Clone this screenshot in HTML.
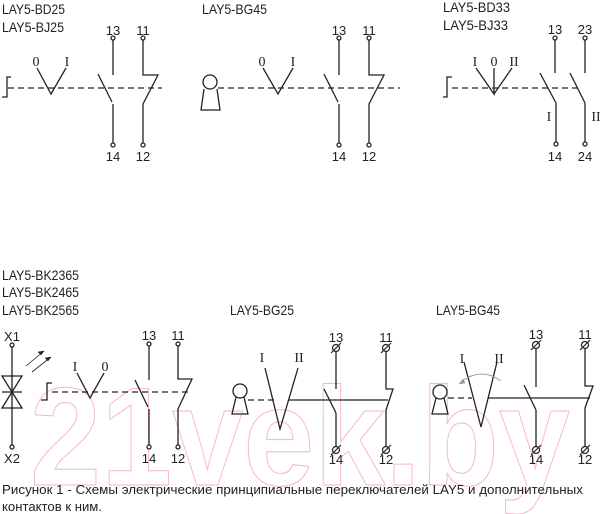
<!DOCTYPE html>
<html><head><meta charset="utf-8"><style>
html,body{margin:0;padding:0;background:#fff;width:600px;height:514px;overflow:hidden}
svg{display:block}
.t{font-family:"Liberation Sans",sans-serif;font-size:14px;fill:#222}
.c{font-family:"Liberation Sans",sans-serif;font-size:13px;fill:#222}
.r{font-family:"Liberation Serif",serif;font-size:14px;fill:#222;text-anchor:middle}
.n{font-family:"Liberation Sans",sans-serif;font-size:13px;fill:#222;text-anchor:middle}
</style></head><body>
<svg width="600" height="514" viewBox="0 0 600 514" xmlns="http://www.w3.org/2000/svg">
<text x="30" y="485" font-family="Liberation Sans,sans-serif" font-weight="bold" font-size="140" fill="none" stroke="#f6b3c9" stroke-width="1" textLength="540" lengthAdjust="spacingAndGlyphs">21vek.by</text>
<g stroke="#222" stroke-width="1.3" fill="none">
<path d="M11,77 H7 V97 H2"/>
<path d="M8,88 H162" stroke-dasharray="6,4"/>
<path d="M37,68 L51,94 L66,68"/>
<path d="M113,40 V75 M98,74 L112,102 M113,104 V143"/>
<path d="M143,40 V75 H158 L143,104 V143"/>
<circle cx="113" cy="38" r="2" fill="#fff"/><circle cx="113" cy="145" r="2" fill="#fff"/>
<circle cx="143" cy="38" r="2" fill="#fff"/><circle cx="143" cy="145" r="2" fill="#fff"/>
<circle cx="210" cy="82" r="7"/><path d="M204,89 L201,110 H220 L217,89"/>
<path d="M218,88 H400" stroke-dasharray="6,4"/>
<path d="M263,68 L278,94 L293,68"/>
<path d="M339,40 V75 M324,74 L338,102 M339,104 V143"/>
<path d="M369,40 V75 H384 L369,104 V143"/>
<circle cx="339" cy="38" r="2" fill="#fff"/><circle cx="339" cy="145" r="2" fill="#fff"/>
<circle cx="369" cy="38" r="2" fill="#fff"/><circle cx="369" cy="145" r="2" fill="#fff"/>
<path d="M452,77 H447 V97 H443"/>
<path d="M452,88 H580" stroke-dasharray="6,4"/>
<path d="M476,68 L494,94 L494,68 M494,94 L512,68"/>
<path d="M555,40 V73 M540,73 L556,103 M556,103 V143"/>
<path d="M585,40 V73 M570,73 L585,103 M585,103 V143"/>
<circle cx="555" cy="38" r="2" fill="#fff"/><circle cx="556" cy="144" r="2" fill="#fff"/>
<circle cx="585" cy="38" r="2" fill="#fff"/><circle cx="585" cy="144" r="2" fill="#fff"/>
<path d="M12,347 V446"/>
<circle cx="12" cy="345" r="2" fill="#fff"/><circle cx="12" cy="447" r="2" fill="#fff"/>
<path d="M2,376 H22 L12,392 Z M2,408 H22 L12,392 Z M2,392 H22"/>
<path d="M26,366 L44,351 M32,372 L51,357" stroke-width="0.8"/>
<path d="M44,351 l-6,1 l3,3 Z M51,357 l-6,1 l3,3 Z" fill="#222" stroke-width="0.5"/>
<path d="M52,383 H47 V400 H41"/>
<path d="M52,392 H192" stroke-dasharray="6,4"/>
<path d="M77,373 L90,398 L104,373"/>
<path d="M149,346 V380 M135,380 L148,407 M149,409 V446"/>
<path d="M178,346 V379 H192 L178,409 V446"/>
<circle cx="149" cy="344" r="2" fill="#fff"/><circle cx="149" cy="447" r="2" fill="#fff"/>
<circle cx="178" cy="344" r="2" fill="#fff"/><circle cx="178" cy="447" r="2" fill="#fff"/>
<circle cx="240" cy="391" r="7"/><path d="M236,397 L232,414 H248 L244,397"/>
<path d="M248,400 H275" stroke-dasharray="6,4"/>
<path d="M265,368 L280,429 L298,368"/>
<path d="M289,400 H388"/>
<path d="M336,351 V389 M324,389 L336,413 M336,413 V447"/>
<path d="M386,351 V389 H393 L386,410 V447"/>
<circle cx="440" cy="392" r="7"/><path d="M436,398 L432,414 H448 L444,398"/>
<path d="M448,398 H472" stroke-dasharray="6,4"/>
<path d="M464,362 L481,427 L497,362"/>
<path d="M488,398 H590"/>
<path d="M536,348 V387 M524,385 L536,410 M536,410 V447"/>
<path d="M585,348 V386 H593 L585,408 V447"/>
<path d="M501,381 Q482,367 462,381" stroke="#999" stroke-width="0.9"/>
<path d="M459,384 l6,-1 l-2,-4 Z" fill="#999" stroke="#999" stroke-width="0.5"/>
</g>
<g stroke="#222" stroke-width="1.2" fill="#fff">
<circle cx="336" cy="348" r="3.5"/><circle cx="386" cy="348" r="3.5"/>
<circle cx="336" cy="450" r="3.5"/><circle cx="386" cy="450" r="3.5"/>
<circle cx="536" cy="345" r="3.5"/><circle cx="585" cy="345" r="3.5"/>
<circle cx="536" cy="450" r="3.5"/><circle cx="585" cy="450" r="3.5"/>
<path d="M331,353 L341,343 M381,353 L391,343 M331,455 L341,445 M381,455 L391,445 M531,350 L541,340 M580,350 L590,340 M531,455 L541,445 M580,455 L590,445" fill="none"/>
</g>
<text class="t" x="2" y="14" textLength="63" lengthAdjust="spacingAndGlyphs">LAY5-BD25</text>
<text class="t" x="2" y="32" textLength="62" lengthAdjust="spacingAndGlyphs">LAY5-BJ25</text>
<text class="t" x="202" y="14" textLength="65" lengthAdjust="spacingAndGlyphs">LAY5-BG45</text>
<text class="t" x="443" y="12" textLength="67" lengthAdjust="spacingAndGlyphs">LAY5-BD33</text>
<text class="t" x="443" y="30" textLength="65" lengthAdjust="spacingAndGlyphs">LAY5-BJ33</text>
<text class="t" x="2" y="280" textLength="77" lengthAdjust="spacingAndGlyphs">LAY5-BK2365</text>
<text class="t" x="2" y="297" textLength="77" lengthAdjust="spacingAndGlyphs">LAY5-BK2465</text>
<text class="t" x="2" y="315" textLength="77" lengthAdjust="spacingAndGlyphs">LAY5-BK2565</text>
<text class="t" x="230" y="315" textLength="64" lengthAdjust="spacingAndGlyphs">LAY5-BG25</text>
<text class="t" x="436" y="315" textLength="64" lengthAdjust="spacingAndGlyphs">LAY5-BG45</text>
<text class="r" x="36" y="66">0</text><text class="r" x="67" y="66">I</text>
<text class="r" x="262" y="66">0</text><text class="r" x="293" y="66">I</text>
<text class="r" x="475" y="66">I</text><text class="r" x="494" y="66">0</text><text class="r" x="514" y="66">II</text>
<text class="r" x="549" y="121">I</text><text class="r" x="596" y="121">II</text>
<text class="r" x="75" y="371">I</text><text class="r" x="105" y="371">0</text>
<text class="r" x="262" y="362">I</text><text class="r" x="299" y="362">II</text>
<text class="r" x="462" y="363">I</text><text class="r" x="499" y="363">II</text>
<text class="n" x="113" y="35">13</text><text class="n" x="143" y="35">11</text>
<text class="n" x="113" y="161">14</text><text class="n" x="143" y="161">12</text>
<text class="n" x="339" y="35">13</text><text class="n" x="369" y="35">11</text>
<text class="n" x="339" y="161">14</text><text class="n" x="369" y="161">12</text>
<text class="n" x="555" y="34">13</text><text class="n" x="585" y="34">23</text>
<text class="n" x="555" y="161">14</text><text class="n" x="585" y="161">24</text>
<text class="n" x="12" y="341">X1</text><text class="n" x="12" y="463">X2</text>
<text class="n" x="149" y="340">13</text><text class="n" x="178" y="340">11</text>
<text class="n" x="149" y="463">14</text><text class="n" x="178" y="463">12</text>
<text class="n" x="336" y="342">13</text><text class="n" x="386" y="342">11</text>
<text class="n" x="336" y="464">14</text><text class="n" x="386" y="464">12</text>
<text class="n" x="536" y="339">13</text><text class="n" x="585" y="339">11</text>
<text class="n" x="536" y="464">14</text><text class="n" x="585" y="464">12</text>
<text class="c" x="2" y="494" textLength="581" lengthAdjust="spacingAndGlyphs">Рисунок 1 - Схемы электрические принципиальные переключателей LAY5 и дополнительных</text>
<text class="c" x="2" y="511" textLength="100" lengthAdjust="spacingAndGlyphs">контактов к ним.</text>
</svg>
</body></html>
